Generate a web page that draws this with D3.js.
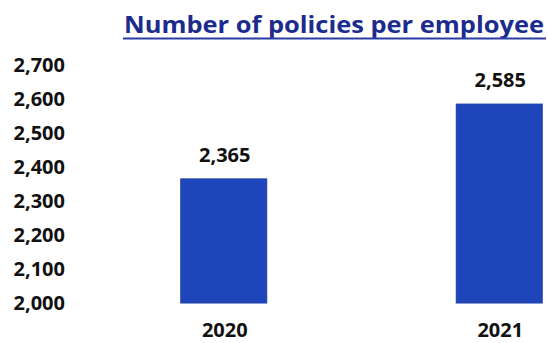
<!DOCTYPE html>
<html>
<head>
<meta charset="utf-8">
<script src="https://cdn.jsdelivr.net/npm/d3@7"></script>
<style>
  body { margin: 0; background: #fff; }
  text { font-family: "Open Sans", "DejaVu Sans", sans-serif; font-weight: bold; }
</style>
</head>
<body>
<div id="chart"></div>
<script>
// chart data
var years = ["2020", "2021"];
var policies = [2365, 2585];
var yTicks = [2000, 2100, 2200, 2300, 2400, 2500, 2600, 2700];
var titleText = "Number of policies per employee";

var width = 547,
    height = 343;

var svg = d3.select("#chart")
    .append("svg")
    .attr("width", width)
    .attr("height", height);

// scales
var x = d3.scaleBand()
    .domain(years)
    .range([86, 637])
    .paddingInner(0.688)
    .paddingOuter(0.344);

var y = d3.scaleLinear()
    .domain([2000, 2700])
    .range([303, 65]);

var fmt = d3.format(",");

// y axis labels only
var yAxis = d3.axisLeft(y)
    .tickValues(yTicks)
    .tickFormat(fmt)
    .tickSize(0)
    .tickPadding(0);

var gy = svg.append("g")
    .attr("transform", "translate(65,0)")
    .call(yAxis);
gy.select(".domain").remove();
gy.selectAll("text")
    .attr("fill", "#111")
    .style("font-size", "20px")
    .style("font-family", "'Open Sans', sans-serif")
    .style("font-weight", "bold");

// bars
svg.append("g")
    .selectAll("rect")
    .data(years)
    .enter().append("rect")
    .attr("x", function (d) { return x(d); })
    .attr("y", function (d, i) { return y(policies[i]); })
    .attr("width", x.bandwidth())
    .attr("height", function (d, i) { return y(2000) - y(policies[i]); })
    .attr("fill", "#1e46ba")
    .attr("stroke", "#1a3ca6")
    .attr("stroke-width", 1);

// value labels
svg.append("g")
    .selectAll("text")
    .data(years)
    .enter().append("text")
    .attr("x", function (d) { return x(d) + x.bandwidth() / 2 + 1; })
    .attr("y", function (d, i) { return y(policies[i]) - 17; })
    .attr("text-anchor", "middle")
    .attr("fill", "#111")
    .style("font-size", "20px")
    .text(function (d, i) { return fmt(policies[i]); });

// category labels
svg.append("g")
    .selectAll("text")
    .data(years)
    .enter().append("text")
    .attr("x", function (d) { return x(d) + x.bandwidth() / 2 + 1; })
    .attr("y", 337)
    .attr("text-anchor", "middle")
    .attr("fill", "#111")
    .style("font-size", "20px")
    .text(function (d) { return d; });

// title with underline
svg.append("text")
    .attr("x", 124)
    .attr("y", 33)
    .attr("fill", "#1b2b8e")
    .style("font-size", "23px")
    .attr("textLength", 420)
    .attr("lengthAdjust", "spacingAndGlyphs")
    .text(titleText);

svg.append("line")
    .attr("x1", 123)
    .attr("x2", 546)
    .attr("y1", 38.5)
    .attr("y2", 38.5)
    .attr("stroke", "#2a3da3")
    .attr("stroke-width", 2);
</script>
</body>
</html>
